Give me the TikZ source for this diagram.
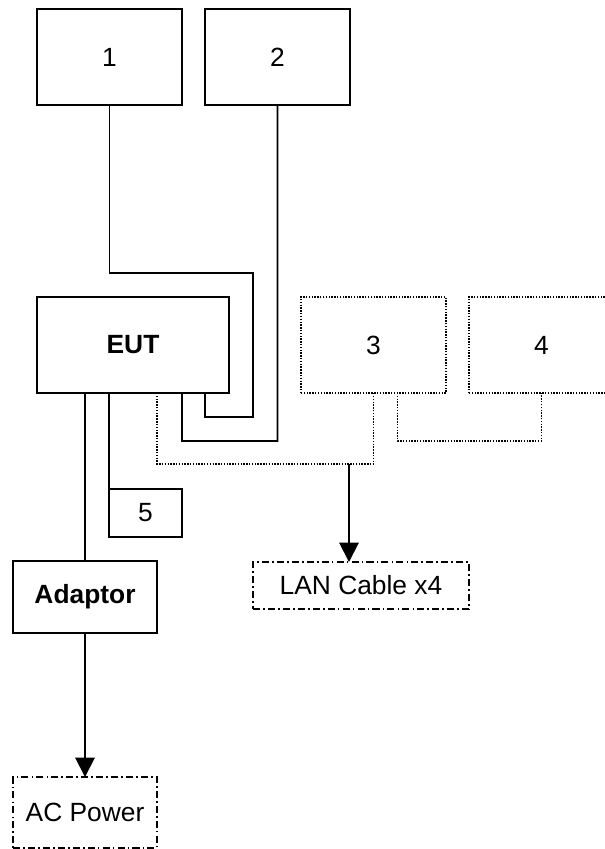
\documentclass[tikz,border=0pt]{standalone}
\usepackage{fontspec}
\setmainfont{Liberation Sans}
\usetikzlibrary{calc,arrows.meta}

\tikzset{
  unit/.style={draw, line width=1.1pt, inner sep=0pt, outer sep=0pt,
    minimum width=2.9cm, minimum height=1.92cm},
  dots/.style={line width=1pt, dash pattern=on 0.8pt off 0.8pt},
  aux/.style={unit, dots},
  ext/.style={draw, line width=0.85pt, inner sep=0pt, outer sep=0pt,
    dash pattern=on 4pt off 1.8pt on 0.9pt off 1.8pt},
  cable/.style={line width=1.1pt},
  tip/.style={-{Triangle[length=11pt,width=11pt]}}
}

\begin{document}
\begin{tikzpicture}[x=0.02cm,y=-0.02cm,font=\fontsize{15}{18}\selectfont]
\useasboundingbox (0,0) rectangle (605,849);

% units
\node[unit] (d1) at (109.5,57) {1};
\node[unit] (d2) at (277.5,57) {2};
\node[unit, minimum width=3.84cm] (eut) at (133,345) {\textbf{EUT}};
\node[aux] (d3) at (373.5,345) {3};
\node[aux] (d4) at (541.5,345) {4};
\node[unit, minimum width=1.46cm, minimum height=0.96cm] (d5) at (145.5,513) {5};
\node[unit, minimum width=2.88cm, minimum height=1.44cm] (adp) at (85,597) {\textbf{Adaptor}};
\node[ext, minimum width=4.32cm, minimum height=0.94cm] (lan) at (361,585.5) {LAN Cable x4};
\node[ext, minimum width=2.88cm, minimum height=1.42cm] (ac) at (85,812.5) {AC Power};

% cables
\draw[cable] (d1.south) |- (253,273) -- (253,417) -| ($(eut.south west)+(168,0)$);
\draw[cable] (d2.south) |- (182,441) -- ($(eut.south west)+(145,0)$);
\draw[cable] (d5.north west) -- (d5.north west |- eut.south);
\draw[cable] (adp.north) -- (adp.north |- eut.south);
\draw[cable, tip] (adp) -- (ac);

% LAN
\coordinate (hub) at (349,464);
\draw[dots] ($(eut.south west)+(120,0)$) |- (hub) -| (d3.south);
\draw[dots] ($(d3.south)+(24,0)$) -- ++(0,48) -| (d4.south);
\draw[cable, tip] (hub) -- (hub |- lan.north);
\end{tikzpicture}
\end{document}
